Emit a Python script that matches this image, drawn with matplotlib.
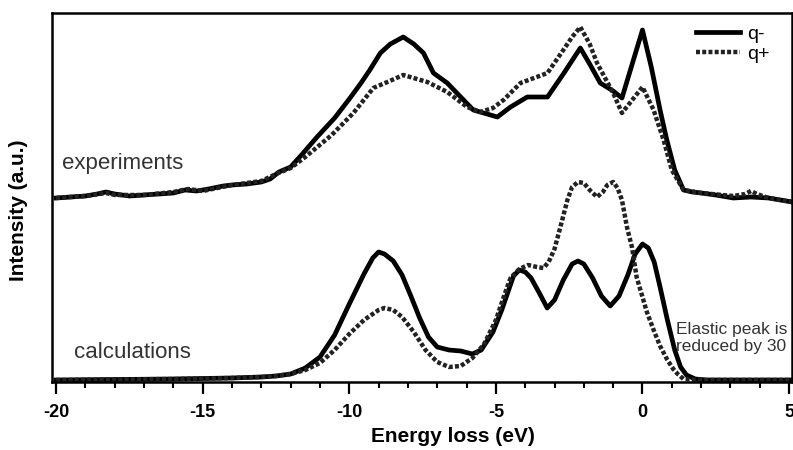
import matplotlib
matplotlib.use("Agg")
import matplotlib.pyplot as plt
from matplotlib.ticker import MultipleLocator

plt.rcParams['font.family'] = ['Liberation Sans', 'DejaVu Sans']

# Experiments, q- (solid)
exp_qm_x = [-20.0, -19.5, -19.0, -18.6, -18.3, -18.0, -17.5, -17.0, -16.5, -16.0, -15.6, -15.2,
            -14.8, -14.3, -14.0, -13.5, -13.0, -12.7, -12.4, -12.0, -11.6, -11.1, -10.5, -10.0,
            -9.6, -9.3, -8.94, -8.6, -8.16, -7.8, -7.47, -7.13, -6.66, -6.2, -5.77, -5.3, -4.95,
            -4.5, -3.93, -3.24, -2.7, -2.12, -1.8, -1.44, -1.0, -0.7, -0.35, 0.0, 0.3, 0.6, 0.83,
            1.1, 1.4, 1.7, 2.0, 2.5, 3.1, 3.7, 4.3, 4.7, 5.1]
exp_qm_y = [184, 185, 186, 188, 190, 188, 186, 187, 188, 189, 192, 191,
            193, 196, 197, 198, 200, 203, 210, 215, 228, 245, 264, 283,
            299, 312, 329, 338, 345, 338, 329, 309, 299, 285, 272, 268, 265,
            275, 285, 285, 308, 334, 318, 299, 291, 284, 318, 352, 315, 272, 242,
            212, 192, 190, 189, 187, 184, 185, 184, 182, 180]

# Experiments, q+ (dotted)
exp_qp_x = [-20.0, -19.0, -18.3, -18.0, -17.0, -16.0, -15.5, -15.0, -14.0, -13.0, -12.5, -12.0,
            -11.5, -10.6, -9.86, -9.18, -8.7, -8.16, -7.34, -6.66, -5.98, -5.53, -5.1, -4.74,
            -4.16, -3.7, -3.24, -2.7, -2.4, -2.12, -1.8, -1.55, -1.0, -0.7, -0.35, 0.0, 0.38,
            0.72, 1.0, 1.4, 2.0, 3.1, 3.5, 3.7, 3.9, 4.3, 5.1]
exp_qp_y = [184, 186, 189, 187, 187, 190, 193, 191, 197, 201, 208, 214,
            225, 247, 269, 294, 300, 307, 300, 290, 275, 270, 274, 282,
            299, 304, 309, 332, 345, 355, 338, 319, 289, 269, 282, 295, 272,
            242, 212, 192, 189, 186, 188, 191, 188, 184, 180]

# Calculations, q- (solid)
calc_qm_x = [-20.0, -16.0, -14.0, -13.0, -12.5, -12.0, -11.5, -11.0, -10.5, -10.0, -9.5, -9.2,
             -9.0, -8.8, -8.5, -8.2, -7.9, -7.6, -7.3, -7.0, -6.6, -6.2, -5.8, -5.5, -5.1, -4.8,
             -4.4, -4.2, -4.0, -3.8, -3.5, -3.25, -3.0, -2.7, -2.4, -2.2, -2.0, -1.7, -1.4,
             -1.1, -0.8, -0.5, -0.25, 0.0, 0.2, 0.4, 0.6, 0.85, 1.1, 1.3, 1.5, 1.8, 2.2, 5.1]
calc_qm_y = [2, 3, 4, 5, 6, 8, 14, 25, 47, 78, 108, 124,
             130, 128, 121, 107, 86, 64, 45, 35, 32, 31, 28, 32, 50, 72,
             106, 112, 110, 104, 88, 74, 82, 102, 118, 121, 118, 104, 86,
             76, 86, 107, 128, 138, 134, 120, 95, 62, 32, 15, 7, 3, 2, 2]

# Calculations, q+ (dotted)
calc_qp_x = [-20.0, -16.0, -14.0, -13.0, -12.5, -12.0, -11.5, -11.0, -10.5, -10.0, -9.5, -9.0,
             -8.8, -8.5, -8.2, -7.8, -7.4, -7.0, -6.6, -6.2, -5.8, -5.4, -5.0, -4.7, -4.5,
             -4.2, -3.9, -3.6, -3.38, -3.2, -3.0, -2.8, -2.56, -2.4, -2.2, -2.0, -1.8, -1.55,
             -1.35, -1.2, -1.0, -0.85, -0.7, -0.53, -0.36, -0.2, -0.07, 0.15, 0.38, 0.6, 0.85,
             1.05, 1.2, 1.4, 2.0, 5.1]
calc_qp_y = [2, 3, 4, 5, 6, 8, 12, 19, 32, 48, 62, 72,
             74, 72, 65, 50, 32, 20, 15, 16, 24, 38, 62, 88, 104,
             113, 117, 115, 114, 120, 133, 155, 182, 195, 200, 199, 192, 185,
             190, 197, 200, 194, 182, 155, 135, 105, 92, 70, 52, 36, 22,
             13, 8, 3, 2, 2]

x_ticks = [-20, -15, -10, -5, 0, 5]

fig = plt.figure(figsize=(7.93, 4.5), dpi=100)
ax = fig.add_axes([52/793, 68/450, 740/793, 369/450])

dot = (0, (0.9, 0.5))
ax.plot(exp_qm_x, exp_qm_y, color='black', lw=3.4, solid_joinstyle='round', label='q-')
ax.plot(exp_qp_x, exp_qp_y, color='#222222', lw=3.2, linestyle=dot, label='q+')
ax.plot(calc_qm_x, calc_qm_y, color='black', lw=3.4, solid_joinstyle='round')
ax.plot(calc_qp_x, calc_qp_y, color='#222222', lw=3.2, linestyle=dot)

ax.set_xlim(-20.14, 5.1)
ax.set_ylim(0, 369)
ax.xaxis.set_minor_locator(MultipleLocator(1))
ax.set_xticks(x_ticks)
ax.set_xticklabels([str(t) for t in x_ticks], fontsize=13, fontweight='bold')
ax.set_yticks([])
ax.tick_params(axis='x', which='major', direction='out', length=8.6, width=1.6, pad=7)
ax.tick_params(axis='x', which='minor', direction='out', length=4.3, width=1.5)
for s in ax.spines.values():
    s.set_linewidth(1.8)

ax.text(-19.8, 219, 'experiments', fontsize=16, color='#333333', va='center', ha='left')
ax.text(-19.39, 30, 'calculations', fontsize=16, color='#333333', va='center', ha='left')
ax.text(1.13, 44, 'Elastic peak is\nreduced by 30', fontsize=12.5, color='#333333',
        va='center', ha='left', linespacing=1.1)

leg = ax.legend(loc='upper right', bbox_to_anchor=(770/793, 1 - 25/450),
                bbox_transform=fig.transFigure, frameon=False, fontsize=14,
                handlelength=2.27, handletextpad=0.4, labelspacing=0.12,
                borderaxespad=0, borderpad=0)

fig.text(453/793, 1 - 437/450, 'Energy loss (eV)', fontsize=15, fontweight='bold',
         ha='center', va='center')
fig.text(19/793, 1 - 210/450, 'Intensity (a.u.)', fontsize=15, fontweight='bold',
         ha='center', va='center', rotation=90)

fig.savefig('out.png', dpi=100)
